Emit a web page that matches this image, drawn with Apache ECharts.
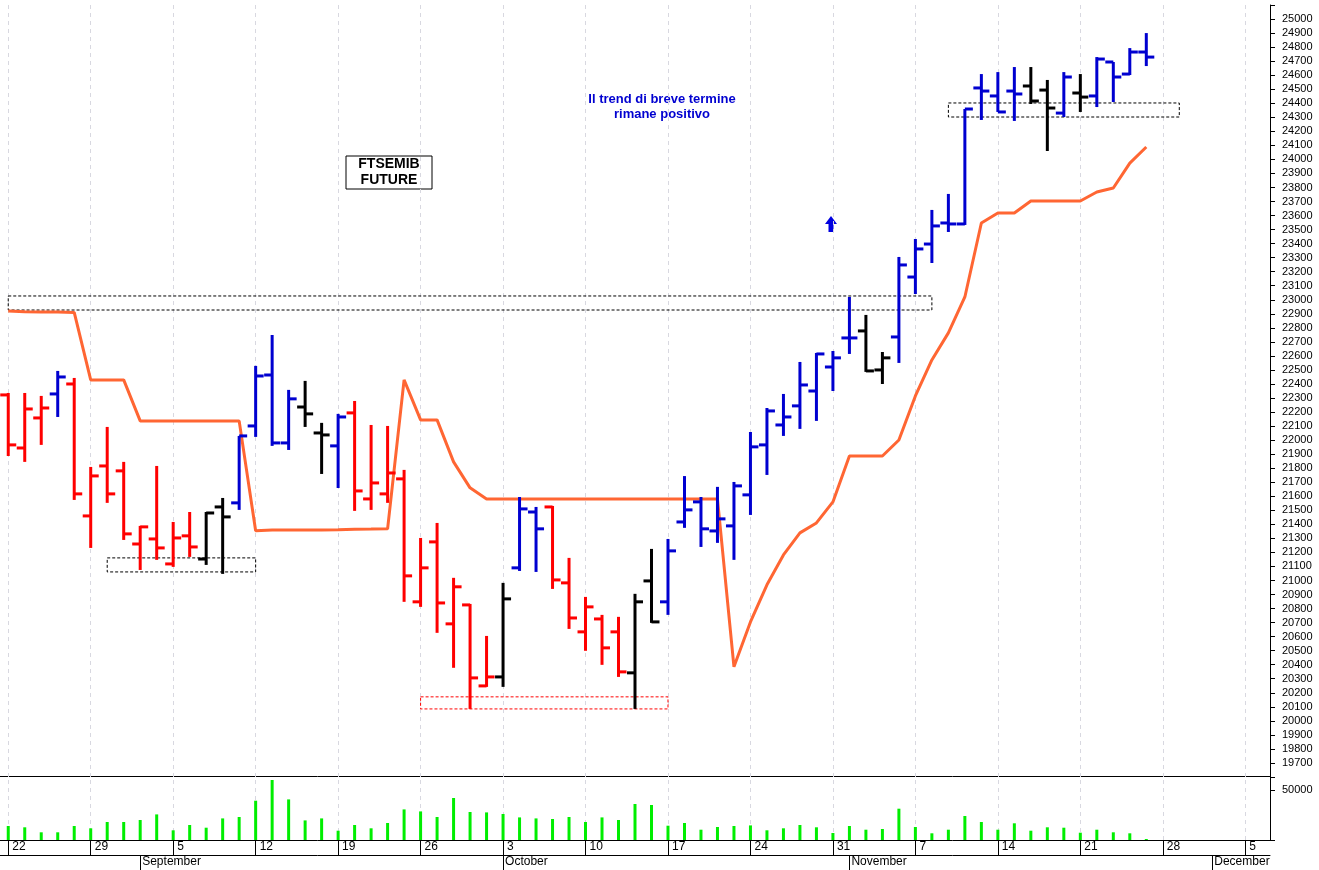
<!DOCTYPE html>
<html>
<head>
<meta charset="utf-8">
<script src="https://cdn.jsdelivr.net/npm/echarts@6/dist/echarts.min.js"></script>
<style>html,body{margin:0;padding:0;background:#fff}#main{width:1319px;height:870px}</style>
</head>
<body>
<div id="main"></div>
<script>
// trading days from 22 Aug 2022, weekdays only
var days = [];
var d = new Date(2022, 7, 22);
while (days.length < 77) {
  if (d.getDay() > 0 && d.getDay() < 6) days.push((d.getMonth() + 1) + '/' + d.getDate());
  d.setDate(d.getDate() + 1);
}
var mondays = [0, 5, 10, 15, 20, 25, 30, 35, 40, 45, 50, 55, 60, 65, 70, 75];
var monthStarts = {8: 'September', 30: 'October', 51: 'November', 73: 'December'};

var opens  = [22322,21944,22158,22329,22400,21460,21816,21781,21260,21296,21118,21318,21153,21524,21553,22101,22464,21980,22236,22051,
              21959,22194,21581,21617,21724,20848,21275,20691,20826,20249,20313,21090,21488,21524,20983,20634,20726,20634,20342,20997,
              20848,21417,21560,21353,21389,21610,21966,22108,22244,22350,22521,22728,22778,22500,22735,23162,23397,23547,23540,24509,
              24452,24487,24523,24494,24330,24473,24452,24694,24608,24765];
var highs  = [22336,22336,22315,22493,22443,21809,22094,21845,21389,21816,21417,21488,21488,21588,22030,22529,22749,22358,22422,22123,
              22187,22279,22108,22101,21788,21303,21410,21019,20833,20605,20983,21595,21524,21531,21161,20883,20755,20741,20905,21225,
              21296,21744,21595,21667,21702,22058,22229,22329,22557,22621,22635,23020,22892,22628,23305,23433,23640,23754,24359,24608,
              24622,24658,24658,24566,24622,24608,24729,24694,24793,24900];
var lows   = [21887,21845,21966,22165,21574,21232,21553,21289,21075,21147,21097,21168,21111,21047,21503,22023,21959,21930,22094,21759,
              21659,21496,21503,21553,20848,20812,20627,20378,20085,20242,20242,21068,21061,20940,20655,20499,20399,20313,20085,20698,
              20755,21375,21239,21268,21147,21467,21752,22030,22080,22137,22350,22614,22486,22400,22550,23041,23262,23483,23533,24281,
              24338,24274,24395,24060,24302,24338,24373,24409,24601,24665];
var closes = [21966,22222,22229,22450,21617,21745,21617,21332,21382,21232,21303,21239,21481,21453,22030,22457,21980,22294,22187,22037,
              22165,21638,21695,21766,21033,21090,20840,20955,20306,20313,20869,21510,21368,21004,20733,20812,20520,20349,20848,20705,
              21211,21503,21368,21439,21674,21952,22208,22165,22393,22614,22586,22728,22493,22586,23248,23362,23526,23540,24359,24487,
              24338,24466,24416,24366,24587,24444,24715,24587,24765,24729];
// trend colour per bar: r red, b blue, k black
var trend = 'rrrbrrrrrrrrkkbbbbkkbrrrrrrrrrkbbrrrrrkkbbbbbbbbbbbbkkbbbbbbbbkkbkbbbb';
var stopLine = [22920,22915,22913,22913,22910,22429,22429,22429,22137,22137,22137,22137,22137,22137,22137,21355,21360,21360,21360,21360,
                21362,21365,21366,21368,22429,22144,22144,21845,21660,21581,21581,21581,21581,21581,21581,21581,21581,21581,21581,21581,
                21581,21581,21581,21581,20385,20705,20969,21182,21339,21410,21560,21887,21887,21887,22001,22315,22571,22764,23020,23547,
                23618,23618,23704,23704,23704,23704,23768,23796,23974,24088];
var volume = [14000,12700,7700,7700,14000,11700,18000,18000,20000,25600,9700,15000,12300,21600,23000,39300,60000,40600,19600,21600,
              9300,15000,11700,17000,30600,28600,23000,42000,28000,27600,26000,22600,21600,21000,23000,18000,22600,20000,36000,35000,
              14300,17000,10300,13000,14000,14600,9700,11700,15000,12700,7000,14000,10300,11000,31300,13000,6700,10300,24000,18000,
              10300,16700,9300,12700,12300,7300,10300,7700,6700,1000];

var colorMap = {r: '#ff0000', b: '#0000d0', k: '#000000'};
var ohlc = opens.map(function (o, i) { return [i, o, highs[i], lows[i], closes[i]]; });

var chart = echarts.init(document.getElementById('main'));

var gridMarks = mondays.map(function (i) { return { xAxis: days[i] }; });
var dashStyle = { color: '#d8d8e0', type: [4, 4], width: 1 };
var axisFont = 'Liberation Sans Narrow, Liberation Sans, Arial';

function box(x1, x2, y1, y2, col) {
  return [{ xAxis: days[x1], yAxis: y1, itemStyle: { color: 'rgba(0,0,0,0)', borderColor: col, borderWidth: 1, borderType: [3, 2] } },
          { xAxis: days[x2], yAxis: y2 }];
}

var option = {
  animation: false,
  grid: [
    { left: 0, width: 1270, top: 5, height: 772 },
    { left: 0, width: 1270, top: 777, height: 63 }
  ],
  xAxis: [
    { type: 'category', gridIndex: 0, data: days, boundaryGap: true,
      axisLine: { show: false }, axisTick: { show: false }, axisLabel: { show: false }, splitLine: { show: false } },
    { type: 'category', gridIndex: 1, data: days, boundaryGap: true, position: 'bottom',
      axisLine: { show: true, lineStyle: { color: '#000', width: 1 } },
      axisTick: { show: true, alignWithLabel: true, length: 15, lineStyle: { color: '#000' },
                  interval: function (i) { return mondays.indexOf(i) >= 0; } },
      axisLabel: { interval: function (i) { return mondays.indexOf(i) >= 0; },
                   formatter: function (v) { return v.split('/')[1]; },
                   align: 'left', padding: [0, 0, 0, 4], margin: 1, fontSize: 12, color: '#000', fontFamily: axisFont } },
    { type: 'category', gridIndex: 1, data: days, boundaryGap: true, position: 'bottom', offset: 15,
      axisLine: { show: true, lineStyle: { color: '#000', width: 1 } },
      axisTick: { show: true, alignWithLabel: true, length: 15, lineStyle: { color: '#000' },
                  interval: function (i) { return monthStarts[i] !== undefined; } },
      axisLabel: { interval: function (i) { return monthStarts[i] !== undefined; },
                   formatter: function (v, i) { return monthStarts[i] || ''; },
                   align: 'left', padding: [0, 0, 0, 2], margin: 1, fontSize: 12, color: '#000', fontFamily: axisFont } }
  ],
  yAxis: [
    { type: 'value', gridIndex: 0, position: 'right', min: 19600, max: 25100, interval: 100,
      axisLine: { show: true, lineStyle: { color: '#000' } },
      axisTick: { show: true, length: 5, lineStyle: { color: '#000' } },
      splitLine: { show: false },
      axisLabel: { margin: 12, fontSize: 11, color: '#000', fontFamily: axisFont,
                   formatter: function (v) { return (v === 19600 || v === 25100) ? '' : v; } } },
    { type: 'value', gridIndex: 1, position: 'right', min: 0, max: 63000, interval: 50000,
      axisLine: { show: true, lineStyle: { color: '#000' } },
      axisTick: { show: true, length: 5, lineStyle: { color: '#000' } },
      splitLine: { show: false },
      axisLabel: { margin: 12, fontSize: 11, color: '#000', fontFamily: axisFont,
                   formatter: function (v) { return v === 50000 ? '50000' : ''; } } }
  ],
  series: [
    // weekly dashed guides, kept under everything
    { type: 'line', xAxisIndex: 0, yAxisIndex: 0, data: [], z: 0, zlevel: 0, silent: true,
      markLine: { silent: true, symbol: 'none', label: { show: false }, lineStyle: dashStyle, data: gridMarks, z: 0 } },
    { type: 'line', xAxisIndex: 1, yAxisIndex: 1, data: [], z: 0, silent: true,
      markLine: { silent: true, symbol: 'none', label: { show: false }, lineStyle: dashStyle, data: gridMarks, z: 0 } },
    { type: 'line', xAxisIndex: 0, yAxisIndex: 0, data: stopLine, showSymbol: false, symbol: 'none',
      lineStyle: { color: '#ff6633', width: 3 }, z: 2,
      markArea: { silent: true, label: { show: false }, data: [
        box(0, 56, 23027, 22927, '#000'),
        box(6, 15, 21161, 21061, '#000'),
        box(25, 40, 20171, 20085, '#ff0000'),
        box(57, 71, 24402, 24302, '#000')
      ] } },
    { type: 'custom', xAxisIndex: 0, yAxisIndex: 0, data: ohlc, z: 5,
      encode: { x: 0, y: [1, 2, 3, 4] },
      renderItem: function (params, api) {
        var i = api.value(0);
        var o = api.coord([i, api.value(1)]);
        var h = api.coord([i, api.value(2)]);
        var l = api.coord([i, api.value(3)]);
        var c = api.coord([i, api.value(4)]);
        var col = colorMap[trend[params.dataIndex]];
        var st = { stroke: col, lineWidth: 3 };
        return { type: 'group', children: [
          { type: 'line', shape: { x1: h[0], y1: h[1], x2: l[0], y2: l[1] }, style: st },
          { type: 'line', shape: { x1: o[0] - 8, y1: o[1], x2: o[0], y2: o[1] }, style: st },
          { type: 'line', shape: { x1: c[0], y1: c[1], x2: c[0] + 8, y2: c[1] }, style: st }
        ] };
      } },
    { type: 'bar', xAxisIndex: 1, yAxisIndex: 1, data: volume, barWidth: 3, z: 5,
      itemStyle: { color: '#00ee00' } }
  ],
  graphic: [
    { type: 'rect', shape: { x: 346, y: 156, width: 86, height: 33 }, style: { fill: '#fff', stroke: '#000', lineWidth: 1 } },
    { type: 'text', x: 389, y: 172, style: { text: 'FTSEMIB\nFUTURE', fill: '#000', font: 'bold 14px Liberation Sans, Arial',
      align: 'center', verticalAlign: 'middle', lineHeight: 16 } },
    { type: 'text', x: 662, y: 107, style: { text: 'Il trend di breve termine\nrimane positivo', fill: '#0000d0',
      font: 'bold 13px Liberation Sans, Arial', align: 'center', verticalAlign: 'middle', lineHeight: 15 } },
    { type: 'polygon', shape: { points: [[831, 216], [837, 224], [833.5, 224], [833.5, 232], [828.5, 232], [828.5, 224], [825, 224]] },
      style: { fill: '#0000e0' } },
    { type: 'line', shape: { x1: 0, y1: 776.5, x2: 1270, y2: 776.5 }, style: { stroke: '#000', lineWidth: 1 } }
  ]
};
chart.setOption(option);
</script>
</body>
</html>
